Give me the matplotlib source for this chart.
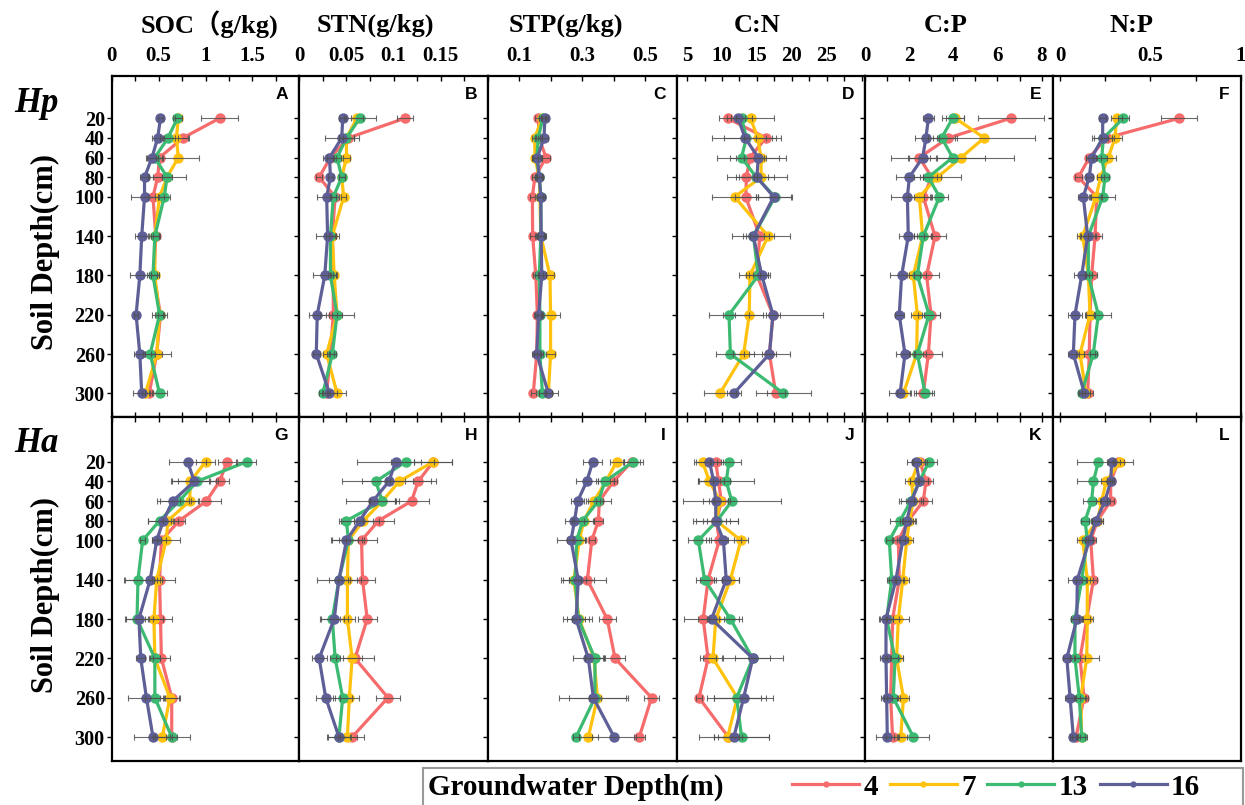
import matplotlib
matplotlib.use("Agg")
import matplotlib.pyplot as plt
from matplotlib.lines import Line2D
from matplotlib.patches import Rectangle
from matplotlib.ticker import FixedLocator, MultipleLocator

plt.rcParams["font.family"] = ["Liberation Serif", "Noto Sans CJK SC", "DejaVu Sans"]

# depths (cm) and groundwater depth groups (m)
depth = [20, 40, 60, 80, 100, 140, 180, 220, 260, 300]
gw_depth = ["4", "7", "13", "16"]
colors = ["#F66B6B", "#FFC20E", "#3CBA72", "#5F5F98"]

# ---- Hp (top row): one list per groundwater depth: 4, 7, 13, 16 ----
soc_hp = [[1.15, 0.76, 0.51, 0.49, 0.44, 0.47, 0.45, 0.52, 0.48, 0.40],
          [0.71, 0.69, 0.71, 0.59, 0.51, 0.46, 0.46, 0.51, 0.48, 0.36],
          [0.70, 0.60, 0.46, 0.59, 0.56, 0.46, 0.44, 0.51, 0.41, 0.51],
          [0.52, 0.49, 0.43, 0.35, 0.35, 0.32, 0.30, 0.26, 0.30, 0.32]]
soc_hp_err = [[0.20, 0.05, 0.04, 0.05, 0.05, 0.03, 0.03, 0.03, 0.06, 0.04],
              [0.04, 0.13, 0.22, 0.05, 0.05, 0.04, 0.04, 0.05, 0.15, 0.04],
              [0.05, 0.08, 0.08, 0.20, 0.06, 0.06, 0.06, 0.08, 0.05, 0.08],
              [0.03, 0.06, 0.06, 0.05, 0.14, 0.07, 0.10, 0.02, 0.06, 0.09]]

stn_hp = [[0.112, 0.052, 0.033, 0.021, 0.038, 0.035, 0.036, 0.036, 0.033, 0.029],
          [0.061, 0.050, 0.050, 0.045, 0.047, 0.035, 0.037, 0.040, 0.029, 0.040],
          [0.064, 0.050, 0.040, 0.045, 0.036, 0.033, 0.033, 0.040, 0.035, 0.025],
          [0.046, 0.045, 0.032, 0.033, 0.029, 0.030, 0.027, 0.019, 0.018, 0.032]]
stn_hp_err = [[0.008, 0.006, 0.004, 0.003, 0.004, 0.004, 0.003, 0.004, 0.004, 0.004],
              [0.006, 0.008, 0.004, 0.003, 0.003, 0.004, 0.003, 0.005, 0.004, 0.010],
              [0.017, 0.008, 0.004, 0.003, 0.003, 0.005, 0.003, 0.018, 0.004, 0.004],
              [0.004, 0.018, 0.007, 0.003, 0.010, 0.012, 0.012, 0.009, 0.004, 0.008]]

stp_hp = [[0.160, 0.163, 0.184, 0.149, 0.141, 0.142, 0.152, 0.157, 0.155, 0.144],
          [0.171, 0.149, 0.149, 0.163, 0.165, 0.168, 0.197, 0.199, 0.199, 0.192],
          [0.174, 0.160, 0.155, 0.163, 0.168, 0.168, 0.163, 0.165, 0.165, 0.173],
          [0.181, 0.178, 0.157, 0.163, 0.168, 0.169, 0.171, 0.161, 0.155, 0.192]]
stp_hp_err = [[0.010, 0.010, 0.012, 0.008, 0.008, 0.008, 0.010, 0.010, 0.010, 0.008],
              [0.010, 0.010, 0.010, 0.010, 0.010, 0.010, 0.012, 0.030, 0.015, 0.010],
              [0.012, 0.012, 0.015, 0.010, 0.012, 0.012, 0.012, 0.010, 0.010, 0.012],
              [0.010, 0.012, 0.015, 0.012, 0.012, 0.015, 0.012, 0.012, 0.015, 0.030]]

cn_hp = [[10.8, 16.3, 14.0, 13.5, 13.4, 15.4, 15.0, 17.3, 16.8, 17.7],
         [14.1, 15.1, 15.6, 15.6, 11.8, 16.6, 14.0, 13.9, 13.1, 9.7],
         [12.8, 13.5, 12.8, 14.9, 17.6, 14.5, 15.2, 11.0, 11.2, 18.8],
         [12.3, 13.3, 15.2, 15.0, 17.4, 14.5, 15.7, 17.3, 16.8, 11.7]]
cn_hp_err = [[1.2, 1.5, 2.0, 1.5, 1.5, 1.4, 1.6, 1.0, 1.0, 1.3],
             [3.4, 2.0, 2.5, 1.0, 3.3, 3.2, 1.5, 2.0, 1.5, 2.3],
             [1.5, 5.0, 3.5, 2.5, 2.4, 1.5, 1.4, 2.9, 2.0, 4.0],
             [1.0, 3.0, 4.0, 4.3, 2.5, 3.0, 1.2, 7.2, 3.0, 1.0]]

cp_hp = [[6.60, 3.77, 2.46, 3.02, 2.64, 3.17, 2.79, 2.99, 2.87, 2.64],
         [4.08, 5.40, 4.35, 3.28, 2.46, 2.61, 2.19, 2.37, 2.34, 1.74],
         [3.97, 3.47, 3.97, 2.87, 3.37, 2.64, 2.37, 2.90, 2.37, 2.72],
         [2.87, 2.76, 2.61, 2.01, 1.92, 1.96, 1.66, 1.55, 1.81, 1.59]]
cp_hp_err = [[1.5, 0.4, 0.5, 0.4, 0.4, 0.5, 0.55, 0.4, 0.6, 0.4],
             [0.4, 2.3, 1.1, 1.05, 0.5, 0.4, 0.3, 0.3, 0.3, 0.3],
             [0.5, 0.6, 2.8, 0.4, 0.4, 0.4, 0.4, 0.5, 0.4, 0.4],
             [0.25, 0.5, 0.6, 0.6, 0.75, 0.4, 0.55, 0.2, 0.4, 0.5]]

np_hp = [[0.659, 0.258, 0.162, 0.102, 0.203, 0.194, 0.175, 0.166, 0.162, 0.153],
         [0.313, 0.304, 0.267, 0.225, 0.199, 0.126, 0.157, 0.166, 0.111, 0.144],
         [0.350, 0.240, 0.231, 0.249, 0.236, 0.157, 0.157, 0.212, 0.184, 0.120],
         [0.236, 0.236, 0.175, 0.162, 0.129, 0.153, 0.120, 0.083, 0.074, 0.135]]
np_hp_err = [[0.10, 0.03, 0.02, 0.02, 0.03, 0.04, 0.03, 0.03, 0.03, 0.03],
             [0.03, 0.04, 0.04, 0.02, 0.03, 0.03, 0.02, 0.02, 0.02, 0.02],
             [0.03, 0.05, 0.03, 0.02, 0.07, 0.04, 0.02, 0.07, 0.02, 0.02],
             [0.02, 0.06, 0.03, 0.02, 0.03, 0.04, 0.04, 0.04, 0.03, 0.03]]

# ---- Ha (bottom row) ----
soc_ha = [[1.23, 1.15, 1.01, 0.72, 0.53, 0.51, 0.52, 0.53, 0.64, 0.64],
          [1.00, 0.84, 0.83, 0.60, 0.58, 0.48, 0.45, 0.46, 0.62, 0.54],
          [1.44, 0.91, 0.72, 0.51, 0.33, 0.28, 0.27, 0.46, 0.46, 0.64],
          [0.81, 0.88, 0.65, 0.55, 0.48, 0.41, 0.29, 0.31, 0.37, 0.44]]
soc_ha_err = [[0.10, 0.10, 0.16, 0.06, 0.05, 0.03, 0.12, 0.09, 0.09, 0.20],
              [0.10, 0.20, 0.10, 0.05, 0.15, 0.03, 0.10, 0.05, 0.10, 0.08],
              [0.10, 0.20, 0.20, 0.12, 0.03, 0.15, 0.12, 0.06, 0.10, 0.06],
              [0.20, 0.25, 0.17, 0.16, 0.05, 0.27, 0.15, 0.05, 0.20, 0.20]]

stn_ha = [[0.142, 0.126, 0.119, 0.084, 0.066, 0.067, 0.072, 0.059, 0.094, 0.056],
          [0.142, 0.106, 0.088, 0.068, 0.052, 0.051, 0.051, 0.056, 0.053, 0.051],
          [0.113, 0.081, 0.088, 0.050, 0.052, 0.042, 0.035, 0.038, 0.046, 0.042],
          [0.102, 0.095, 0.078, 0.064, 0.050, 0.042, 0.037, 0.021, 0.028, 0.042]]
stn_ha_err = [[0.020, 0.014, 0.018, 0.016, 0.016, 0.013, 0.010, 0.020, 0.013, 0.013],
              [0.020, 0.014, 0.013, 0.010, 0.010, 0.010, 0.008, 0.010, 0.010, 0.010],
              [0.016, 0.015, 0.014, 0.008, 0.017, 0.010, 0.012, 0.005, 0.010, 0.012],
              [0.041, 0.050, 0.028, 0.020, 0.016, 0.023, 0.015, 0.008, 0.010, 0.013]]

stp_ha = [[0.457, 0.399, 0.354, 0.351, 0.330, 0.316, 0.379, 0.404, 0.520, 0.481],
          [0.409, 0.375, 0.337, 0.305, 0.290, 0.273, 0.290, 0.337, 0.348, 0.319],
          [0.462, 0.372, 0.351, 0.301, 0.282, 0.277, 0.287, 0.340, 0.340, 0.280],
          [0.333, 0.314, 0.285, 0.275, 0.264, 0.287, 0.280, 0.319, 0.335, 0.401]]
stp_ha_err = [[0.025, 0.010, 0.012, 0.015, 0.010, 0.060, 0.027, 0.033, 0.025, 0.017],
              [0.020, 0.025, 0.020, 0.030, 0.020, 0.040, 0.040, 0.030, 0.090, 0.030],
              [0.030, 0.030, 0.040, 0.035, 0.030, 0.020, 0.020, 0.030, 0.020, 0.010],
              [0.030, 0.035, 0.020, 0.030, 0.045, 0.050, 0.040, 0.050, 0.110, 0.070]]

cn_ha = [[9.1, 9.5, 9.9, 9.2, 9.6, 8.0, 7.3, 8.0, 6.7, 10.9],
         [7.2, 8.2, 9.7, 9.2, 12.7, 11.2, 9.1, 8.7, 12.2, 10.8],
         [11.0, 10.6, 11.4, 9.3, 6.6, 7.5, 11.2, 14.4, 12.1, 12.8],
         [8.2, 8.8, 9.1, 9.1, 10.2, 10.6, 8.5, 14.4, 13.1, 11.7]]
cn_ha_err = [[0.8, 0.8, 1.0, 1.3, 1.2, 1.2, 0.8, 1.2, 0.4, 1.5],
             [1.2, 1.5, 1.5, 2.0, 1.0, 1.2, 1.2, 1.5, 3.4, 2.0],
             [1.7, 4.0, 7.0, 3.0, 1.5, 1.3, 1.7, 4.4, 4.2, 4.0],
             [2.0, 2.3, 1.8, 3.2, 2.5, 1.8, 4.0, 2.5, 4.2, 5.0]]

cp_ha = [[2.49, 2.76, 2.64, 1.96, 1.51, 1.55, 1.25, 1.21, 1.16, 1.25],
         [2.42, 2.11, 2.19, 2.01, 1.89, 1.71, 1.51, 1.43, 1.74, 1.62],
         [2.90, 2.46, 2.07, 1.59, 1.10, 1.21, 0.98, 1.36, 1.28, 2.19],
         [2.31, 2.46, 2.11, 1.89, 1.71, 1.40, 0.95, 0.95, 0.98, 1.01]]
cp_ha_err = [[0.30, 0.30, 0.40, 0.30, 0.30, 0.20, 0.30, 0.30, 0.30, 0.30],
             [0.30, 0.30, 0.35, 0.30, 0.30, 0.30, 0.50, 0.30, 0.25, 0.30],
             [0.35, 0.40, 0.55, 0.45, 0.15, 0.20, 0.30, 0.35, 0.30, 0.72],
             [0.40, 0.40, 0.50, 0.30, 0.25, 0.30, 0.30, 0.25, 0.25, 0.50]]

np_ha = [[0.323, 0.280, 0.280, 0.207, 0.170, 0.185, 0.148, 0.111, 0.133, 0.089],
         [0.332, 0.255, 0.231, 0.207, 0.126, 0.151, 0.151, 0.148, 0.115, 0.120],
         [0.212, 0.185, 0.175, 0.139, 0.151, 0.120, 0.083, 0.083, 0.107, 0.120],
         [0.286, 0.280, 0.249, 0.199, 0.162, 0.096, 0.093, 0.038, 0.056, 0.074]]
np_ha_err = [[0.03, 0.02, 0.02, 0.03, 0.03, 0.02, 0.02, 0.03, 0.02, 0.02],
             [0.07, 0.03, 0.03, 0.03, 0.03, 0.03, 0.03, 0.07, 0.03, 0.03],
             [0.12, 0.09, 0.05, 0.02, 0.03, 0.03, 0.02, 0.03, 0.03, 0.02],
             [0.02, 0.02, 0.03, 0.03, 0.02, 0.05, 0.03, 0.02, 0.03, 0.02]]

# column settings: title, xlim, labelled ticks, minor ticks
col_titles = ["SOC（g/kg)", "STN(g/kg)", "STP(g/kg)", "C:N", "C:P", "N:P"]
col_xlim = [(0, 2), (0, 0.2), (0, 0.6), (3.5, 30.5), (0, 8.5), (-0.04, 1.0)]
col_ticks = [[0, 0.5, 1, 1.5], [0, 0.05, 0.1, 0.15], [0.1, 0.3, 0.5],
             [5, 10, 15, 20, 25], [0, 2, 4, 6, 8], [0, 0.5, 1]]
col_ticklabels = [["0", "0.5", "1", "1.5"], ["0", "0.05", "0.1", "0.15"],
                  ["0.1", "0.3", "0.5"], ["5", "10", "15", "20", "25"],
                  ["0", "2", "4", "6", "8"], ["0", "0.5", "1"]]
col_minor = [0.25, 0.025, 0.1, 2.5, 1, 0.25]

rows = [[soc_hp, stn_hp, stp_hp, cn_hp, cp_hp, np_hp],
        [soc_ha, stn_ha, stp_ha, cn_ha, cp_ha, np_ha]]
rows_err = [[soc_hp_err, stn_hp_err, stp_hp_err, cn_hp_err, cp_hp_err, np_hp_err],
            [soc_ha_err, stn_ha_err, stp_ha_err, cn_ha_err, cp_ha_err, np_ha_err]]
letters = ["ABCDEF", "GHIJKL"]
row_names = ["Hp", "Ha"]

W, H = 1245, 805
fig = plt.figure(figsize=(W / 100, H / 100), dpi=100)

col_edges = [111.7, 299.3, 488, 676.7, 865, 1052.7, 1241]
row_edges = [(76, 416.7), (416.7, 761)]
row_ylim = [(323.8, -23), (324.4, -25.8)]

for r in range(2):
    top, bot = row_edges[r]
    for c in range(6):
        x0, x1 = col_edges[c], col_edges[c + 1]
        ax = fig.add_axes([x0 / W, 1 - bot / H, (x1 - x0) / W, (bot - top) / H])
        for g in range(4):
            ax.plot(rows[r][c][g], depth, "-o", color=colors[g], lw=2.3, ms=6.5,
                    zorder=3 + g * 0.1)
        for g in range(4):
            ax.errorbar(rows[r][c][g], depth, xerr=rows_err[r][c][g], fmt="none",
                        ecolor="#505050", elinewidth=0.8, capsize=2, capthick=0.8,
                        alpha=0.85, zorder=4)
        ax.set_xlim(col_xlim[c])
        ax.set_ylim(row_ylim[r])
        for s in ax.spines.values():
            s.set_linewidth(1.6)
        ax.xaxis.set_major_locator(FixedLocator(col_ticks[c]))
        ax.xaxis.set_minor_locator(MultipleLocator(col_minor[c]))
        if r == 0:
            ax.tick_params(axis="x", which="both", top=True, bottom=True, labeltop=True,
                           labelbottom=False, direction="in", length=3.5, width=1.0, pad=7)
            ax.set_xticklabels(col_ticklabels[c], fontsize=15, fontweight="bold")
        else:
            ax.tick_params(axis="x", which="both", top=True, bottom=False, labeltop=False,
                           labelbottom=False, direction="in", length=3.5, width=1.0)
        ax.set_yticks(depth)
        ax.tick_params(axis="y", left=True, right=False, direction="out", length=3.5,
                       width=1.0, labelleft=(c == 0), pad=1.5)
        if c == 0:
            ax.set_yticklabels([str(d) for d in depth], fontsize=14.5, fontweight="bold")
        ax.text(1 - 11 / (x1 - x0), 1 - 11 / (bot - top), letters[r][c],
                transform=ax.transAxes, ha="right", va="top", fontsize=12.5,
                fontweight="bold", family="Liberation Sans")

# column titles
title_x = [210, 375, 566, 757, 946, 1131]
for c in range(6):
    fig.text(title_x[c] / W, 1 - 25 / H, col_titles[c], ha="center", va="center",
             fontsize=19, fontweight="bold")

# row labels
for r in range(2):
    top, bot = row_edges[r]
    fig.text(36 / W, 1 - (top + 27) / H, row_names[r], ha="center", va="center",
             fontsize=25, fontweight="bold", style="italic")
    fig.text(45 / W, 1 - (top + bot + 12) / 2 / H, "Soil Depth(cm)", ha="center",
             va="center", rotation=90, fontsize=22, fontweight="bold")

# legend
fig.patches.append(Rectangle((423 / W, -0.01), (1243 - 423) / W, 0.056,
                             transform=fig.transFigure, fill=False,
                             edgecolor="#9a9a9a", lw=1.5))
fig.text(428 / W, 1 - 787 / H, "Groundwater Depth(m)", ha="left", va="center",
         fontsize=21, fontweight="bold")
handles = [Line2D([], [], color=colors[g], lw=2.3, marker="o", ms=3.5) for g in range(4)]
fig.legend(handles, gw_depth, loc="center left", bbox_to_anchor=(792 / W, 1 - 787 / H),
           ncol=4, frameon=False, borderpad=0, borderaxespad=0, handlelength=2.3,
           handletextpad=0.15, columnspacing=0.4,
           prop={"family": "Liberation Serif", "weight": "bold", "size": 21})

fig.savefig("out.png", dpi=100)
